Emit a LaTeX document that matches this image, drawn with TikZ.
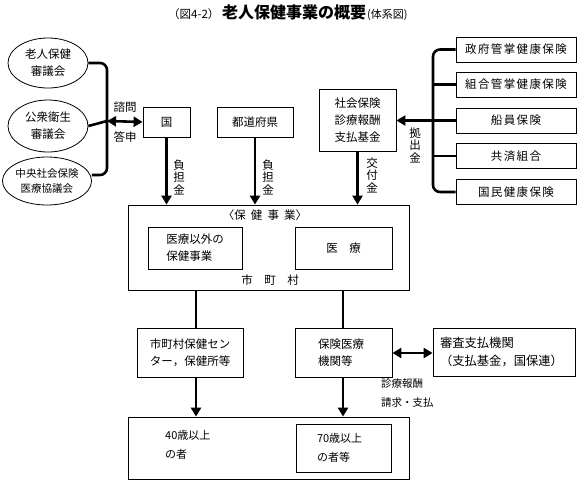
\documentclass[tikz,border=0pt]{standalone}
\usepackage{fontspec}
\setmainfont{Noto Sans CJK JP}
\newfontfamily\jp{Noto Sans CJK JP}
\newfontfamily\jpsp[LetterSpace=12]{Noto Sans CJK JP}
\usetikzlibrary{arrows.meta,shapes.geometric}
\begin{document}
\begin{tikzpicture}[x=1pt,y=-1pt,
  txt/.style={font=\jp\fontsize{11.5}{15}\selectfont, align=center, inner sep=0pt},
  ovalnode/.style={ellipse, draw, line width=0.8pt, inner sep=0pt, font=\jp\fontsize{11.5}{17}\selectfont, align=center},
  boxnode/.style={draw, line width=0.8pt, inner sep=0pt, font=\jp\fontsize{11.5}{17}\selectfont, align=center},
  rbox/.style={draw, line width=0.8pt, inner sep=0pt, minimum width=120pt, minimum height=25pt, font=\jpsp\fontsize{11.5}{15}\selectfont},
  vlab/.style={font=\jp\fontsize{11.5}{12.5}\selectfont, align=center, inner sep=0pt},
  thickarrow/.style={line width=2.6pt, -{Triangle[length=9pt,width=10pt]}},
  thickline/.style={line width=2.6pt},
  dblarrow/.style={line width=2.6pt, {Triangle[length=9pt,width=10pt]}-{Triangle[length=9pt,width=10pt]}},
  bracket/.style={line width=2.6pt, rounded corners=7pt}
]
\useasboundingbox (0,0) rectangle (588,491);

% title
\node[anchor=base west, inner sep=0pt, font=\jp\fontsize{11.5}{14}\selectfont] (t1) at (168,18) {（図4-2）};
\node[anchor=base west, inner sep=0pt, font=\jp\bfseries\fontsize{16}{18}\selectfont] (t2) at (222,18) {老人保健事業の概要};
\node[anchor=base west, inner sep=0pt, font=\jp\fontsize{11}{14}\selectfont] (t3) at (367,18) {(体系図)};

% left ellipses
\node[ovalnode, minimum width=80pt, minimum height=50pt] (e1) at (48,63) {老人保健\\審議会};
\node[ovalnode, minimum width=80pt, minimum height=52pt] (e2) at (48,126) {公衆衛生\\審議会};
\node[ovalnode, minimum width=80pt, minimum height=48pt, font=\jp\fontsize{10.5}{15}\selectfont] (e3) at (47,181) {中央社会保険\\医療協議会};

\coordinate (bl) at (107,121);
\draw[bracket] (e1.east |- 0,63) -- (107,63) -- (107,175) -- (e3.east |- 0,175);
\draw[thickline] (e2.east) -- (bl);

% top boxes
\node[boxnode, minimum width=47pt, minimum height=30pt] (kuni) at (166.5,122) {国};
\node[boxnode, minimum width=76pt, minimum height=30pt] (todo) at (255,122) {都道府県};
\node[boxnode, minimum width=77pt, minimum height=62pt] (kikin) at (357.5,120) {社会保険\\診療報酬\\支払基金};

\draw[dblarrow] (bl) -- (kuni.west);
\node[txt] (shimon) at (125,107) {諮問};
\node[txt] (toushin) at (125,137) {答申};

% right boxes
\node[rbox] (r1) at (516,49.5) {政府管掌健康保険};
\node[rbox] (r2) at (516,84.5) {組合管掌健康保険};
\node[rbox] (r3) at (516,120.5) {船員保険};
\node[rbox] (r4) at (516,156) {共済組合};
\node[rbox] (r5) at (516,192) {国民健康保険};

\coordinate (br) at (433,120.5);
\draw[bracket] (r1.west) -- (433,49.5) -- (433,192) -- (r5.west);
\draw[thickline] (r2.west) -- (433,84.5);
\draw[thickline] (r3.west) -- (br);
\draw[thickline] (r4.west) -- (433,156);
\draw[thickarrow] (br) -- (kikin.east |- br);
\node[vlab] (kyoshutsu) at (415,145) {拠\\出\\金};

% municipality box
\node[draw, line width=0.8pt, minimum width=281pt, minimum height=85pt, inner sep=0pt] (city) at (268.5,247.5) {};
\node[txt] (hoken) at (265,215) {〈保\ \ 健\ \ 事\ \ 業〉};
\node[txt] (shichoson) at (270,280) {市\quad 町\quad 村};
\node[boxnode, minimum width=94pt, minimum height=42pt, align=left] (iryoigai) at (195,248) {医療以外の\\保健事業};
\node[boxnode, minimum width=97pt, minimum height=42pt] (iryo) at (343.5,248) {医\quad 療};

\draw[thickarrow] (kuni.south) -- (kuni.south |- city.north);
\draw[thickarrow] (todo.south) -- (todo.south |- city.north);
\draw[thickarrow] (kikin.south) -- (kikin.south |- city.north);
\node[vlab] (futan1) at (179,177) {負\\担\\金};
\node[vlab] (futan2) at (268,177) {負\\担\\金};
\node[vlab] (kofu) at (372,175) {交\\付\\金};

% lower boxes
\node[boxnode, minimum width=106pt, minimum height=49pt] (center) at (190,352.5) {市町村保健セン\\ター，保健所等};
\node[boxnode, minimum width=97pt, minimum height=49pt, align=left, text width=51pt] (kikan) at (343.5,352.5) {保険医療\\機関等};
\node[boxnode, minimum width=142pt, minimum height=48pt, align=left, text width=128pt, font=\jp\fontsize{12.3}{18}\selectfont] (shinsa) at (504,352) {審査支払機関\\（支払基金，国保連）};

\draw[thickline] (city.south -| 196,0) -- (center.north -| 196,0);
\draw[thickline] (city.south -| 343,0) -- (kikan.north -| 343,0);
\draw[dblarrow] (kikan.east |- 0,353) -- (shinsa.west |- 0,353);
\node[txt, anchor=north west, align=left, font=\jp\fontsize{10.5}{19}\selectfont] (seikyu) at (381,378) {診療報酬\\請求・支払};

% bottom box
\node[draw, line width=0.8pt, minimum width=281pt, minimum height=62pt, inner sep=0pt] (target) at (268.5,448) {};
\node[txt, anchor=north west, align=left, font=\jp\fontsize{11}{19}\selectfont] (age40) at (165,430) {40歳以上\\の者};
\node[boxnode, minimum width=95pt, minimum height=48pt, align=left, text width=53pt, font=\jp\fontsize{11}{19}\selectfont] (age70) at (343.5,448) {70歳以上\\の者等};

\draw[thickarrow] (center.south -| 196,0) -- (target.north -| 196,0);
\draw[thickarrow] (kikan.south -| 343,0) -- (target.north -| 343,0);
\end{tikzpicture}
\end{document}
